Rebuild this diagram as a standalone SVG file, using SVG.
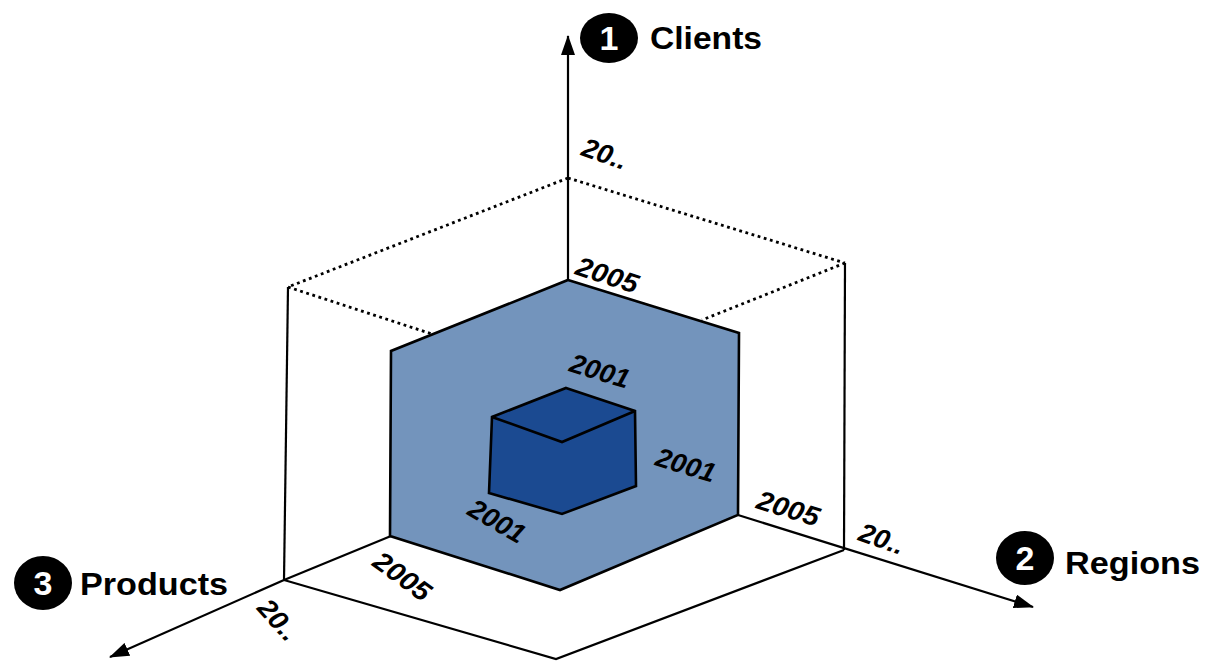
<svg xmlns="http://www.w3.org/2000/svg" width="1205" height="662" viewBox="0 0 1205 662">
<style>
.ax{stroke:#000;stroke-width:2.2;fill:none}
.dot{stroke:#000;stroke-width:2.8;fill:none;stroke-dasharray:2.8 3.6}
.face{stroke:#000;stroke-width:2.6;stroke-linejoin:miter}
.lbl{font-family:"Liberation Sans",Arial,sans-serif;font-weight:bold;font-style:italic;font-size:27px;fill:#000}
.ttl{font-family:"Liberation Sans",Arial,sans-serif;font-weight:bold;font-size:32px;fill:#000}
.num{font-family:"Liberation Sans",Arial,sans-serif;font-weight:bold;font-size:34px;fill:#fff;text-anchor:middle}
</style>
<defs>
<marker id="ah" viewBox="0 0 20 14" refX="19" refY="7" markerWidth="20" markerHeight="14" markerUnits="userSpaceOnUse" orient="auto">
<path d="M0,0 L20,7 L0,14 z" fill="#000"/>
</marker>
</defs>
<g id="connectors">
<line class="dot" x1="568" y1="178" x2="288" y2="287"/>
<line class="dot" x1="568" y1="178" x2="845" y2="263"/>
<line class="dot" x1="288" y1="287" x2="432" y2="334"/>
<line class="dot" x1="845" y1="263" x2="702" y2="320"/>
<line class="ax" x1="288" y1="287" x2="284" y2="580"/>
<line class="ax" x1="845" y1="263" x2="844" y2="550"/>
<polyline class="ax" points="284,580 556,659 844,550"/>
<line class="ax" x1="284" y1="580" x2="391" y2="536"/>
<line class="ax" x1="568" y1="280" x2="568" y2="36" marker-end="url(#ah)"/>
<line class="ax" x1="738" y1="515" x2="1033" y2="607" marker-end="url(#ah)"/>
<line class="ax" x1="284" y1="580" x2="110" y2="657" marker-end="url(#ah)"/>
</g>
<g id="slice">
<polygon class="face" fill="#7394bc" points="568,280 739,333 738,515 560,590 390,536 391,351"/>
</g>
<g id="cube">
<polygon class="face" fill="#1b4a91" points="566,388 635,411 636,486 562,514 489,493 492,417"/>
<polyline class="face" fill="none" points="492,417 562,442 635,411"/>
</g>
<g id="labels">
<text class="lbl" transform="translate(580,155) rotate(19)" textLength="46" lengthAdjust="spacingAndGlyphs">20..</text>
<text class="lbl" transform="translate(574,274) rotate(18)" textLength="64" lengthAdjust="spacingAndGlyphs">2005</text>
<text class="lbl" transform="translate(568,371) rotate(17)" textLength="61" lengthAdjust="spacingAndGlyphs">2001</text>
<text class="lbl" transform="translate(654,465) rotate(17)" textLength="61" lengthAdjust="spacingAndGlyphs">2001</text>
<text class="lbl" transform="translate(466,514) rotate(30)" textLength="61" lengthAdjust="spacingAndGlyphs">2001</text>
<text class="lbl" transform="translate(755,508) rotate(17)" textLength="64" lengthAdjust="spacingAndGlyphs">2005</text>
<text class="lbl" transform="translate(857,540) rotate(19)" textLength="46" lengthAdjust="spacingAndGlyphs">20..</text>
<text class="lbl" transform="translate(371,565) rotate(36)" textLength="64" lengthAdjust="spacingAndGlyphs">2005</text>
<text class="lbl" transform="translate(256,609) rotate(48)" textLength="46" lengthAdjust="spacingAndGlyphs">20..</text>
</g>
<g id="axis-clients">
<ellipse cx="609" cy="38" rx="29" ry="25" fill="#000"/>
<text class="num" x="609" y="50">1</text>
<text class="ttl" x="650" y="49" textLength="112" lengthAdjust="spacingAndGlyphs">Clients</text>
</g>
<g id="axis-regions">
<ellipse cx="1025" cy="558" rx="29" ry="27" fill="#000"/>
<text class="num" x="1025" y="570">2</text>
<text class="ttl" x="1065" y="574" textLength="135" lengthAdjust="spacingAndGlyphs">Regions</text>
</g>
<g id="axis-products">
<ellipse cx="43" cy="583" rx="29" ry="27" fill="#000"/>
<text class="num" x="43" y="595">3</text>
<text class="ttl" x="80" y="595" textLength="148" lengthAdjust="spacingAndGlyphs">Products</text>
</g>
</svg>
